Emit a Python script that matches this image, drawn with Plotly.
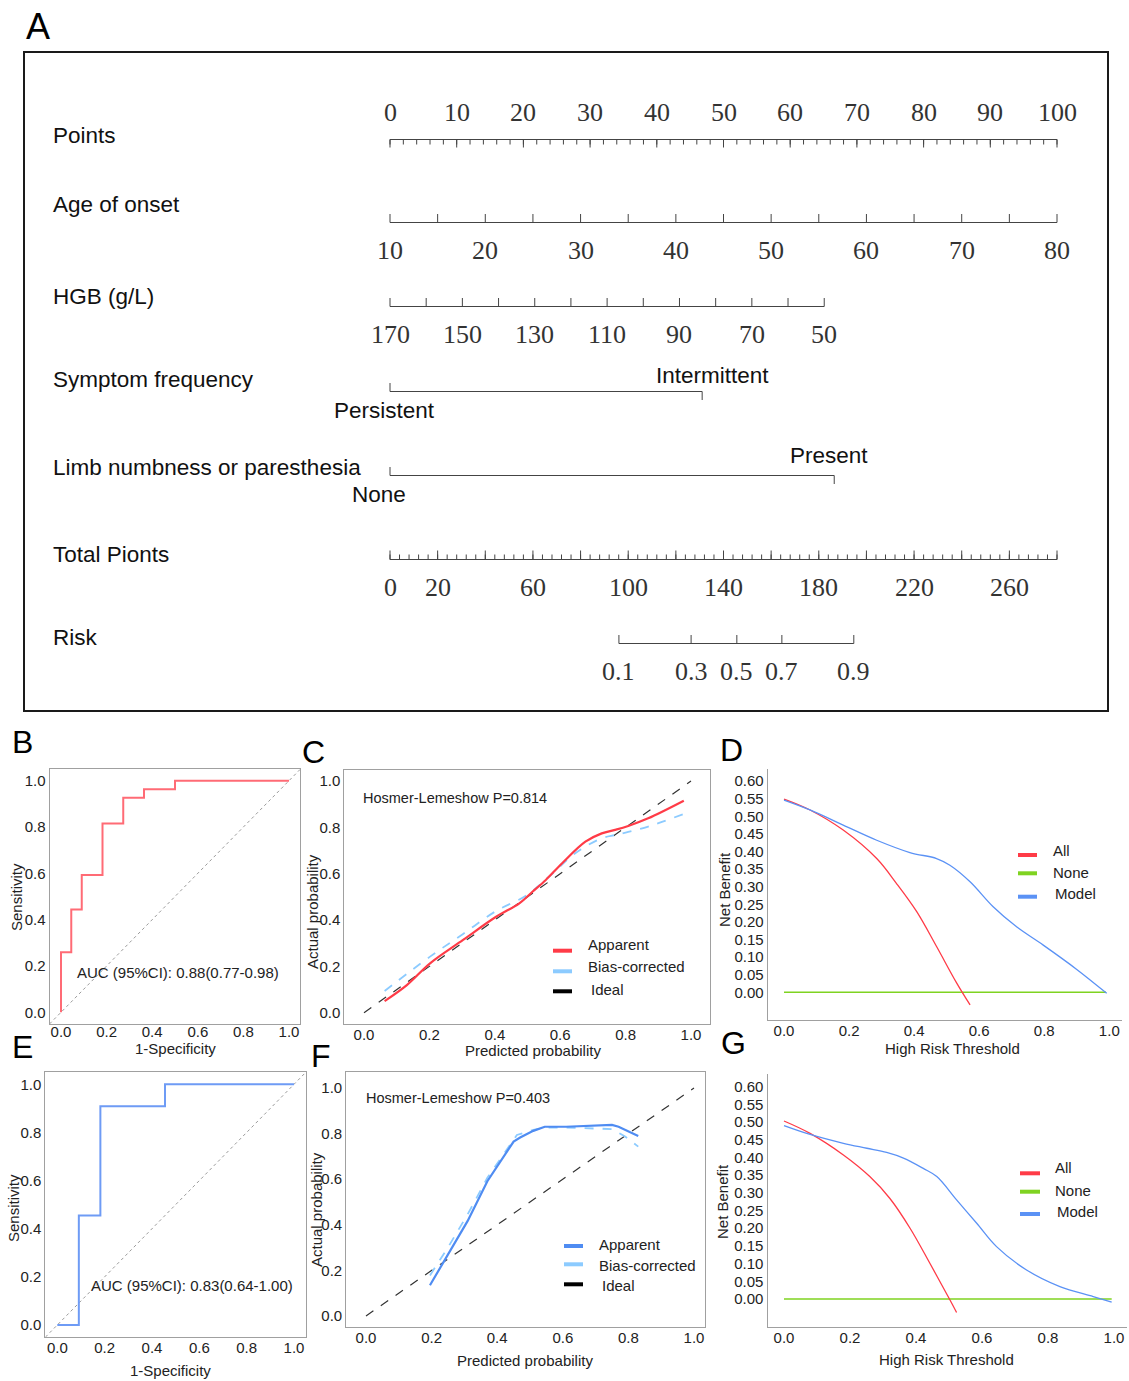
import plotly.graph_objects as go

W, H = 1129, 1381
SANS = "Liberation Sans, Arial, sans-serif"
SERIF = "Liberation Serif, Times New Roman, serif"

# ======================= DATA =======================
# --- Nomogram (A) ---
points_labels = [0, 10, 20, 30, 40, 50, 60, 70, 80, 90, 100]
points_minor = [i * 2 for i in range(51)]
age_labels = [10, 20, 30, 40, 50, 60, 70, 80]
age_ticks = [10, 15, 20, 25, 30, 35, 40, 45, 50, 55, 60, 65, 70, 75, 80]
age_span = [10, 80]
age_points_span = [0, 100]
hgb_labels = [170, 150, 130, 110, 90, 70, 50]
hgb_ticks = [170, 160, 150, 140, 130, 120, 110, 100, 90, 80, 70, 60, 50]
hgb_span = [170, 50]
hgb_points_span = [0, 65.1]
symptom_levels = ["Persistent", "Intermittent"]
symptom_points = [0, 46.8]
limb_levels = ["None", "Present"]
limb_points = [0, 66.6]
total_labels = [0, 20, 60, 100, 140, 180, 220, 260]
total_major = [i * 20 for i in range(15)]
total_minor = [i * 4 for i in range(71)]
total_span = [0, 280]
risk_labels = [0.1, 0.3, 0.5, 0.7, 0.9]
risk_total_points = [96.1, 126.4, 145.6, 164.5, 194.7]

# --- ROC (B, E) ---
rocB_fpr = [0, 0, 0.045, 0.091, 0.182, 0.273, 0.364, 0.5, 1.0]
rocB_tpr = [0, 0.259, 0.444, 0.593, 0.815, 0.926, 0.963, 1.0, 1.0]
rocE_fpr = [0, 0.091, 0.182, 0.455, 1.0]
rocE_tpr = [0, 0.455, 0.909, 1.0, 1.0]
aucB_text = "AUC (95%CI): 0.88(0.77-0.98)"
aucE_text = "AUC (95%CI): 0.83(0.64-1.00)"

# --- Calibration (C, F) ---
calC_app_x = [0.063, 0.131, 0.202, 0.303, 0.404, 0.475, 0.515, 0.556, 0.606, 0.677, 0.727, 0.768, 0.808, 0.869, 0.978]
calC_app_y = [0.050, 0.119, 0.213, 0.314, 0.414, 0.472, 0.522, 0.573, 0.645, 0.738, 0.774, 0.789, 0.806, 0.839, 0.915]
calC_bc_x = [0.063, 0.202, 0.303, 0.404, 0.495, 0.566, 0.646, 0.727, 0.768, 0.808, 0.869, 0.978]
calC_bc_y = [0.094, 0.242, 0.340, 0.439, 0.505, 0.587, 0.688, 0.753, 0.767, 0.780, 0.803, 0.858]
calF_app_x = [0.195, 0.25, 0.31, 0.37, 0.45, 0.47, 0.51, 0.545, 0.61, 0.75, 0.77, 0.83]
calF_app_y = [0.135, 0.272, 0.417, 0.591, 0.765, 0.783, 0.812, 0.830, 0.830, 0.838, 0.830, 0.790]
calF_bc_x = [0.195, 0.25, 0.31, 0.37, 0.46, 0.51, 0.545, 0.61, 0.75, 0.79, 0.83]
calF_bc_y = [0.178, 0.301, 0.446, 0.606, 0.794, 0.816, 0.826, 0.826, 0.820, 0.787, 0.743]
hlC_text = "Hosmer-Lemeshow P=0.814"
hlF_text = "Hosmer-Lemeshow P=0.403"

# --- Decision curves (D, G) ---
dcaD_all_x = [0, 0.08, 0.182, 0.285, 0.346, 0.408, 0.469, 0.531, 0.572]
dcaD_all_y = [0.549, 0.518, 0.461, 0.380, 0.309, 0.229, 0.130, 0.026, -0.036]
dcaD_model_x = [0, 0.08, 0.182, 0.285, 0.387, 0.469, 0.510, 0.572, 0.643, 0.715, 0.797, 0.900, 0.992]
dcaD_model_y = [0.546, 0.518, 0.475, 0.432, 0.397, 0.380, 0.361, 0.314, 0.243, 0.186, 0.134, 0.065, -0.003]
dcaD_none_x = [0, 0.99]
dcaD_none_y = [0, 0]
dcaG_all_x = [0, 0.079, 0.18, 0.26, 0.321, 0.382, 0.442, 0.503, 0.523]
dcaG_all_y = [0.503, 0.468, 0.407, 0.346, 0.284, 0.200, 0.101, -0.003, -0.038]
dcaG_model_x = [0, 0.079, 0.18, 0.251, 0.311, 0.362, 0.422, 0.463, 0.523, 0.584, 0.644, 0.735, 0.836, 0.937, 0.993]
dcaG_model_y = [0.490, 0.465, 0.440, 0.426, 0.414, 0.398, 0.369, 0.346, 0.280, 0.214, 0.148, 0.082, 0.035, 0.007, -0.009]
dcaG_none_x = [0, 0.993]
dcaG_none_y = [0, 0]

unit_ticks = [0, 0.2, 0.4, 0.6, 0.8, 1.0]
nb_ticks = [0, 0.05, 0.10, 0.15, 0.20, 0.25, 0.30, 0.35, 0.40, 0.45, 0.50, 0.55, 0.60]

# ======================= COLORS =======================
RED = "#ff3b47"
RED_ROC = "#ff6b75"
LBLUE = "#8ccbff"
BLUE = "#4f8cf2"
BLUE_ROC = "#6e9bf5"
MBLUE = "#5b92f5"
GREEN = "#7fd321"
NOMO = "#444444"

fig = go.Figure()


def px2paper_x(p):
    return p / W


def px2paper_y(p):
    return 1 - p / H


def xdom(p0, p1, r):
    s = p1 - p0
    return [(p0 + r[0] * s) / W, (p0 + r[1] * s) / W]


def ydom(p0, p1, r):
    s = p1 - p0
    a = p0 + r[0] * s
    b = p0 + r[1] * s
    return [1 - a / H, 1 - b / H]


def lin(v, span, pspan):
    return pspan[0] + (v - span[0]) / (span[1] - span[0]) * (pspan[1] - pspan[0])


# ======================= NOMOGRAM =======================
PX_PER_PT = (1057 - 390) / 100.0
nomo_xr = [(25 - 390) / PX_PER_PT, (1107 - 390) / PX_PER_PT]
LABEL_SIZE = 22.5


def nomo_line(x0, x1, y):
    fig.add_trace(go.Scatter(x=[x0, x1], y=[y, y], mode="lines",
                             line=dict(color=NOMO, width=1), xaxis="x", yaxis="y",
                             showlegend=False, hoverinfo="skip"))


def nomo_ticks(xs, y0, y1):
    tx, ty = [], []
    for v in xs:
        tx += [v, v, None]
        ty += [y0, y1, None]
    fig.add_trace(go.Scatter(x=tx, y=ty, mode="lines",
                             line=dict(color=NOMO, width=1), xaxis="x", yaxis="y",
                             showlegend=False, hoverinfo="skip"))


annotations = []


def nomo_num(x, y, text):
    annotations.append(dict(x=x, y=y, xref="x", yref="y", text=text, showarrow=False,
                            font=dict(family=SERIF, size=26, color="#333333"),
                            xanchor="center", yanchor="middle"))


def row_label(y, text):
    annotations.append(dict(x=px2paper_x(51), y=px2paper_y(y), xref="paper", yref="paper",
                            text=text, showarrow=False, xanchor="left", yanchor="middle",
                            font=dict(family=SANS, size=LABEL_SIZE, color="#111111")))


def level_label(x, y, text, xshift):
    annotations.append(dict(x=x, y=y, xref="x", yref="y", text=text, showarrow=False,
                            xshift=xshift, xanchor="center", yanchor="middle",
                            font=dict(family=SANS, size=LABEL_SIZE, color="#111111")))


# Points
nomo_line(0, 100, 139.5)
nomo_ticks(points_minor, 139.5, 144.5)
nomo_ticks(points_labels, 139.5, 147.5)
for v in points_labels:
    nomo_num(v, 112.5, str(v))
row_label(135, "Points")

# Age of onset
age_pts = [lin(v, age_span, age_points_span) for v in age_ticks]
nomo_line(min(age_pts), max(age_pts), 222.5)
nomo_ticks(age_pts, 214, 222.5)
for v in age_labels:
    nomo_num(lin(v, age_span, age_points_span), 250.5, str(v))
row_label(205, "Age of onset")

# HGB
hgb_pts = [lin(v, hgb_span, hgb_points_span) for v in hgb_ticks]
nomo_line(min(hgb_pts), max(hgb_pts), 306.5)
nomo_ticks(hgb_pts, 298, 306.5)
for v in hgb_labels:
    nomo_num(lin(v, hgb_span, hgb_points_span), 334, str(v))
row_label(297, "HGB (g/L)")

# Symptom frequency
nomo_line(symptom_points[0], symptom_points[1], 391.5)
nomo_ticks([symptom_points[0]], 383, 391.5)
nomo_ticks([symptom_points[1]], 391.5, 400)
level_label(symptom_points[0], 410, symptom_levels[0], -6)
level_label(symptom_points[1], 375, symptom_levels[1], 10)
row_label(379, "Symptom frequency")

# Limb numbness
nomo_line(limb_points[0], limb_points[1], 475.5)
nomo_ticks([limb_points[0]], 467, 475.5)
nomo_ticks([limb_points[1]], 475.5, 484)
level_label(limb_points[0], 494, limb_levels[0], -11)
level_label(limb_points[1], 455, limb_levels[1], -5)
row_label(467, "Limb numbness or paresthesia")

# Total points
tot_pts_minor = [lin(v, total_span, [0, 100]) for v in total_minor]
tot_pts_major = [lin(v, total_span, [0, 100]) for v in total_major]
nomo_line(0, 100, 559.5)
nomo_ticks(tot_pts_minor, 554.5, 559.5)
nomo_ticks(tot_pts_major, 550.5, 559.5)
for v in total_labels:
    nomo_num(lin(v, total_span, [0, 100]), 587.5, str(v))
row_label(554, "Total Pionts")

# Risk
risk_pts = [lin(v, total_span, [0, 100]) for v in risk_total_points]
nomo_line(min(risk_pts), max(risk_pts), 643.5)
nomo_ticks(risk_pts, 635, 643.5)
for v, p in zip(risk_labels, risk_pts):
    nomo_num(p, 671.5, f"{v:.1f}")
row_label(637.5, "Risk")

# ======================= PANELS =======================
panel_specs = {
    2: dict(x0=61, x1=289, xr=[-0.05, 1.05], y0=1012.3, y1=780.7, yr=[-0.05, 1.05], box=True, nb=False, so=-6),
    3: dict(x0=364, x1=691, xr=[-0.06, 1.058], y0=1012.7, y1=781, yr=[-0.049, 1.047], box=True, nb=False, so=-3),
    4: dict(x0=784, x1=1109.3, xr=[-0.05, 1.04], y0=992.3, y1=640.3, yr=[-0.08, 0.635], box=False, nb=True, so=-4),
    5: dict(x0=57.3, x1=294, xr=[-0.05, 1.05], y0=1325, y1=1084.3, yr=[-0.05, 1.05], box=True, nb=False, so=-3),
    6: dict(x0=366, x1=694, xr=[-0.06, 1.035], y0=1316, y1=1088, yr=[-0.048, 1.069], box=True, nb=False, so=-3),
    7: dict(x0=784, x1=1114, xr=[-0.05, 1.04], y0=1299, y1=945.1, yr=[-0.08, 0.635], box=False, nb=True, so=-3),
}

layout_axes = {}
layout_axes["xaxis"] = dict(domain=[25 / W, 1107 / W], range=nomo_xr, showgrid=False, zeroline=False,
                            showticklabels=False, ticks="", showline=True, mirror=True,
                            linecolor="#1a1a1a", linewidth=2, anchor="y")
layout_axes["yaxis"] = dict(domain=[1 - 710 / H, 1 - 53 / H], range=[710, 53], showgrid=False,
                            zeroline=False, showticklabels=False, ticks="", showline=True,
                            mirror=True, linecolor="#1a1a1a", linewidth=2, anchor="x")

tickfont = dict(family=SANS, size=15, color="#222222")
for i, s in panel_specs.items():
    lc = "#a0a0a0"
    layout_axes[f"xaxis{i}"] = dict(domain=xdom(s["x0"], s["x1"], s["xr"]), range=s["xr"],
                                   showgrid=False, zeroline=False, showline=True, mirror=s["box"],
                                   linecolor=lc, linewidth=1.2, ticks="", tickvals=unit_ticks,
                                   tickformat=".1f", tickfont=tickfont, anchor=f"y{i}",
                                   ticklabelstandoff=s["so"])
    layout_axes[f"yaxis{i}"] = dict(domain=ydom(s["y0"], s["y1"], s["yr"]), range=s["yr"],
                                   showgrid=False, zeroline=False, showline=True, mirror=s["box"],
                                   linecolor=lc, linewidth=1.2, ticks="",
                                   tickvals=nb_ticks if s["nb"] else unit_ticks,
                                   tickformat=".2f" if s["nb"] else ".1f",
                                   tickfont=tickfont, anchor=f"x{i}")


def add_line(i, x, y, color, width, dash="solid", shape="linear"):
    fig.add_trace(go.Scatter(x=x, y=y, mode="lines", xaxis=f"x{i}", yaxis=f"y{i}",
                             line=dict(color=color, width=width, dash=dash, shape=shape),
                             showlegend=False, hoverinfo="skip"))


# B ROC
rB = panel_specs[2]["xr"]
add_line(2, rB, rB, "#9a9a9a", 1, dash="dot")
add_line(2, rocB_fpr, rocB_tpr, RED_ROC, 2, shape="hv")
# E ROC
rE = panel_specs[5]["xr"]
add_line(5, rE, rE, "#9a9a9a", 1, dash="dot")
add_line(5, rocE_fpr, rocE_tpr, BLUE_ROC, 2, shape="hv")

# C calibration
add_line(3, [0, 1], [0, 1], "#333333", 1.2, dash="dash")
add_line(3, calC_bc_x, calC_bc_y, LBLUE, 1.8, dash="dash", shape="spline")
add_line(3, calC_app_x, calC_app_y, RED, 2.2, shape="spline")
# F calibration
add_line(6, [0, 1], [0, 1], "#333333", 1.2, dash="dash")
add_line(6, calF_bc_x, calF_bc_y, LBLUE, 1.8, dash="dash")
add_line(6, calF_app_x, calF_app_y, BLUE, 2.2)

# D decision curve
add_line(4, dcaD_none_x, dcaD_none_y, GREEN, 1.5)
add_line(4, dcaD_all_x, dcaD_all_y, RED, 1.3, shape="spline")
add_line(4, dcaD_model_x, dcaD_model_y, MBLUE, 1.3, shape="spline")
# G decision curve
add_line(7, dcaG_none_x, dcaG_none_y, GREEN, 1.5)
add_line(7, dcaG_all_x, dcaG_all_y, RED, 1.3, shape="spline")
add_line(7, dcaG_model_x, dcaG_model_y, MBLUE, 1.3, shape="spline")


# ======================= TEXT / LEGENDS =======================
def ptext(x, y, text, size=15, xanchor="center", angle=0, family=SANS, color="#222222"):
    annotations.append(dict(x=px2paper_x(x), y=px2paper_y(y), xref="paper", yref="paper",
                            text=text, showarrow=False, xanchor=xanchor, yanchor="middle",
                            textangle=angle, font=dict(family=family, size=size, color=color)))


# panel letters
ptext(38, 27, "A", size=36, color="#000000")
ptext(22, 742, "B", size=32, color="#000000")
ptext(313, 752, "C", size=32, color="#000000")
ptext(731, 750, "D", size=32, color="#000000")
ptext(22, 1047, "E", size=32, color="#000000")
ptext(321, 1056, "F", size=32, color="#000000")
ptext(733, 1043, "G", size=32, color="#000000")

# axis titles
ptext(16, 897, "Sensitivity", angle=-90)
ptext(175, 1048, "1-Specificity")
ptext(312, 912, "Actual probability", angle=-90)
ptext(533, 1050, "Predicted probability")
ptext(724, 890, "Net Benefit", angle=-90)
ptext(952, 1048, "High Risk Threshold")
ptext(13, 1208, "Sensitivity", angle=-90)
ptext(170, 1370, "1-Specificity")
ptext(316, 1210, "Actual probability", angle=-90)
ptext(525, 1360, "Predicted probability")
ptext(722, 1202, "Net Benefit", angle=-90)
ptext(947, 1359, "High Risk Threshold")

# in-plot texts
ptext(75, 972, aucB_text, xanchor="left")
ptext(89, 1285, aucE_text, xanchor="left")
ptext(361, 798, hlC_text, size=14.5, xanchor="left")
ptext(364, 1098, hlF_text, size=14.5, xanchor="left")

shapes = []


def legend(items, key_x0, key_x1, text_x):
    for (label, color, ky, ty, dx) in items:
        shapes.append(dict(type="line", xref="paper", yref="paper",
                           x0=px2paper_x(key_x0), x1=px2paper_x(key_x1),
                           y0=px2paper_y(ky), y1=px2paper_y(ky),
                           line=dict(color=color, width=4)))
        ptext(text_x + dx, ty, label, xanchor="left")


legend([("Apparent", RED, 950.7, 945, 0), ("Bias-corrected", LBLUE, 971.3, 966.7, 0),
        ("Ideal", "#000000", 991.3, 989.3, 3)], 553, 572, 586)
legend([("Apparent", BLUE, 1246, 1244.3, 0), ("Bias-corrected", LBLUE, 1264.3, 1265.3, 0),
        ("Ideal", "#000000", 1284.3, 1285.3, 3)], 564, 583, 597)
legend([("All", RED, 855, 850.7, 0), ("None", GREEN, 873.3, 872.3, 0),
        ("Model", MBLUE, 896.7, 893.3, 2)], 1018, 1037, 1051)
legend([("All", RED, 1173.3, 1167.7, 0), ("None", GREEN, 1191.7, 1190, 0),
        ("Model", MBLUE, 1214, 1211.7, 2)], 1020, 1040, 1053)

fig.update_layout(width=W, height=H, margin=dict(l=0, r=0, t=0, b=0),
                  paper_bgcolor="white", plot_bgcolor="white",
                  showlegend=False, annotations=annotations, shapes=shapes,
                  **layout_axes)

fig.write_html("out.html", config={"displayModeBar": False},
               post_script="document.body.style.margin='0px';")
